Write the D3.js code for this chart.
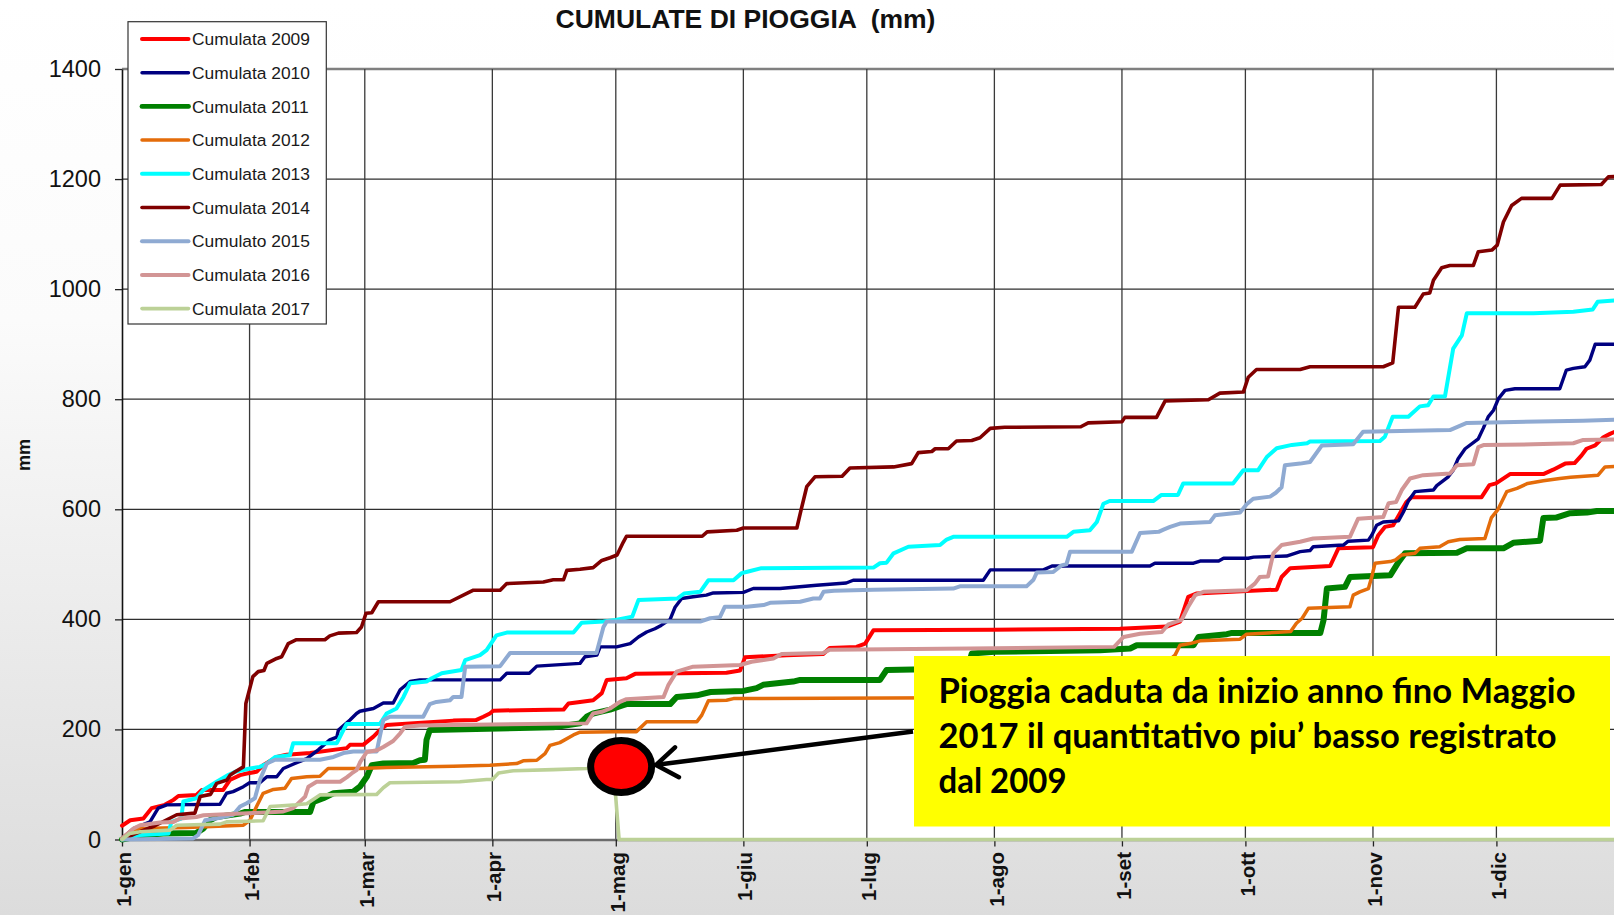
<!DOCTYPE html>
<html><head><meta charset="utf-8">
<script src="https://cdn.jsdelivr.net/npm/d3@7"></script>
<style>html,body{margin:0;padding:0;overflow:hidden;background:#fff}</style>
</head><body>
<svg id="chart" width="1614" height="915"></svg>
<script>
// ---------- DATA ----------
const monthDays = [0,31,59,90,120,151,181,212,243,273,304,334];
const monthLabels = ["1-gen","1-feb","1-mar","1-apr","1-mag","1-giu","1-lug","1-ago","1-set","1-ott","1-nov","1-dic"];
const yTicks = [0,200,400,600,800,1000,1200,1400];
const seriesNames = ["Cumulata 2009","Cumulata 2010","Cumulata 2011","Cumulata 2012","Cumulata 2013","Cumulata 2014","Cumulato 2015","Cumulata 2016","Cumulata 2017"];
const seriesColors = ["#ff0000","#000080","#008000","#e46c0a","#00ffff","#800000","#8faad2","#d29595","#bcd197"];
const seriesWidths = [4,3.4,6,3.5,4,3.6,4,4,3.6];

// [day of year, cumulative mm]
const cum2009 = [[0,25],[2,35],[5.2,38],[7.2,57],[10.4,63],[12.5,72],[13.7,79],[18.1,81],[19.4,90],[24.6,90],[26.2,108],[28.7,117],[30.3,120],[32.7,123],[34.3,135],[37.6,150],[40,154],[45.7,157],[54.6,166],[55.4,172],[58.6,172],[61.1,187],[62.7,199],[64.3,208],[70,211],[80.5,216],[86,217],[87.8,223],[89.4,229],[90.2,234],[96.7,235],[107.3,236],[108.5,247],[111.3,250],[114.5,253],[116.6,266],[117.8,290],[122.6,293],[124.7,301],[146.9,303],[150.2,307],[151.4,331],[161.5,335],[170.4,337],[172,348],[178.5,350],[180.6,356],[182.6,380],[211.7,381],[242.5,383],[253.9,387],[257.1,396],[259.1,441],[261.2,447],[280.6,454],[281.8,477],[283.9,493],[293.6,497],[295.6,529],[304,531],[305.3,553],[306.9,568],[308.9,571],[310.5,592],[312.1,613],[313.4,622],[330.4,622],[332.3,644],[333.9,647],[337.3,664],[345.4,664],[347.8,672],[350.7,683],[353,684],[354.7,698],[355.9,710],[358,716],[360,731],[361.6,737],[364,745]];
const cum2010 = [[0,2],[2.8,20],[6.8,32],[8.8,57],[10.9,63],[23.8,64],[25.4,84],[27,87],[29.5,96],[31,103],[33.5,103],[35.2,114],[37.6,114],[39.2,129],[42,138],[44.9,147],[47.7,163],[50.5,181],[52.2,186],[52.6,199],[55.4,217],[57,229],[57.8,233],[61.1,238],[63.5,248],[65.9,248],[67.6,272],[70,287],[72.4,290],[91.9,290],[93.5,302],[99,302],[100.8,315],[111.3,320],[112.5,332],[115.4,335],[116.2,350],[120.2,350],[123.5,356],[125.5,368],[127.5,377],[129.5,383],[131,389],[133.2,400],[134.4,422],[136,438],[138.8,441],[142,444],[143.7,448],[151,449],[153.4,456],[159.9,456],[168.8,462],[176,466],[177.7,471],[209.3,471],[211,490],[223.9,490],[226,497],[249.8,497],[251,502],[260.4,502],[262,506],[266.5,506],[267.7,511],[273.7,511],[275,513],[283,515],[286.3,523],[288.7,525],[289.5,532],[296.8,535],[298,542],[302.9,544],[303.7,553],[304.9,571],[306.5,577],[310.2,579],[311.4,595],[312.6,615],[314.2,632],[318.7,635],[319.5,643],[321.1,652],[322.3,659],[323.5,671],[324.7,692],[326.4,710],[329.6,728],[330.8,747],[332,768],[333.3,780],[334.5,801],[336.1,816],[338.5,819],[349.4,819],[351,853],[352.7,856],[355.5,859],[356.7,871],[358,900],[364,900]];
const cum2011 = [[0,0],[5.2,8],[10,11],[18.1,12],[19.8,20],[21.4,35],[23,41],[28.7,47],[30,50],[45.7,50],[46.5,68],[48.9,75],[51.4,84],[56.2,87],[57.8,96],[59.5,114],[60.7,135],[63.5,138],[70.8,139],[72.4,144],[73.6,145],[74,181],[74.8,199],[80.5,200],[104.8,204],[111.3,211],[112.9,223],[114.5,229],[116.2,232],[118.6,236],[121.8,244],[122.6,246],[133.2,246],[134.8,259],[139.7,262],[143,268],[151,270],[154.2,275],[155.8,281],[163.1,287],[164.8,290],[184.2,290],[185.8,308],[192.3,309],[205.5,310],[206.5,338],[212,341],[237.7,344],[245,347],[246.6,353],[260.4,353],[261.6,368],[268.5,373],[269.5,375],[291.2,375],[292,399],[292.8,456],[297.2,459],[298.4,477],[308.2,480],[310.2,504],[311.8,520],[324.4,521],[326.8,529],[335.7,529],[338.1,539],[344.6,543],[345.4,584],[348.5,585],[351.9,593],[356,594],[358.4,597],[364,597]];
const cum2012 = [[0,2],[1.9,14],[4.4,20],[15.7,22],[29.5,26],[31.1,35],[32.7,60],[34.3,84],[36.8,91],[39.6,93],[41.2,111],[44.9,114],[48.1,115],[50.1,129],[57.8,129],[64.3,131],[80.5,133],[89.4,135],[95.9,138],[97.5,143],[100.8,144],[102.8,156],[104,171],[106.4,176],[109.7,190],[111.3,195],[119.4,196],[125,196],[127.5,214],[139.7,214],[140.9,226],[142.5,252],[146.9,253],[148.6,256],[225,258],[240,280],[250,310],[254.5,326],[255.9,335],[257.1,353],[259.5,356],[262,361],[271.7,364],[273.3,373],[284,378],[285.4,393],[286.8,402],[288.3,420],[298.4,423],[299.2,444],[300.8,450],[302.9,456],[303.7,477],[304.5,502],[308.2,505],[309.5,508],[311,517],[314.2,520],[315.4,529],[320.2,532],[322.3,541],[325.1,545],[331.2,547],[332.8,585],[334.4,600],[336.5,632],[339,638],[341.6,647],[345.4,652],[349.4,656],[352,658],[358.7,662],[360.4,677],[364,678]];
const cum2013 = [[0,0],[4.4,8],[11.3,11],[12,32],[14.4,38],[14.9,69],[18.1,75],[19.8,90],[23,105],[25.8,117],[27.5,123],[31.1,129],[33.5,132],[35.2,138],[37.2,150],[40.8,153],[41.6,175],[52.2,175],[53.4,193],[54.6,210],[62.7,210],[64.3,229],[66.7,238],[68.4,259],[70,284],[74,287],[75.3,293],[77.7,302],[82.5,308],[83.4,326],[87,335],[88.6,344],[91,371],[93.5,376],[109.7,376],[111.7,394],[117,396],[120,399],[124,405],[125.5,435],[135,438],[136.6,447],[140.5,450],[142.5,471],[148.6,471],[150.6,484],[152.2,487],[155.4,493],[182.6,494],[184.2,502],[185.8,503],[187.5,520],[191.1,532],[198.8,535],[200.4,545],[202,550],[229.6,550],[231.2,559],[235.2,562],[236.9,577],[238.5,610],[240,615],[250.6,615],[252.6,626],[256.6,626],[257.9,647],[270,647],[272.5,671],[276.1,671],[278.2,695],[280.6,711],[284.3,717],[288,720],[288.7,723],[305.7,724],[306.9,732],[308.8,768],[312.6,768],[315.4,787],[317.4,789],[318.7,805],[321.5,805],[323.5,892],[325.6,916],[326.8,956],[343,956],[352.7,959],[357.4,963],[358.6,977],[364,980]];
const cum2014 = [[0,0],[3,10],[8,25],[13.3,45],[17.7,48],[19,78],[21.5,82],[23,102],[25.5,108],[26.3,117],[27.5,123],[29.5,132],[30.1,247],[31.8,296],[33.1,305],[34.5,307],[35.2,320],[37.6,329],[38.8,332],[40.4,356],[42.4,363],[49.3,363],[50.5,370],[52.6,375],[57,376],[58.2,386],[59.3,411],[60.7,412],[62.3,432],[79.7,432],[83.8,447],[85.4,453],[91.9,453],[93.5,465],[102.4,468],[104.8,472],[107.3,472],[108.1,489],[111.3,491],[114.5,494],[116.6,507],[118.6,512],[120.3,517],[121.8,540],[122.6,551],[141,551],[142.2,559],[149.4,562],[151,566],[164,566],[165,598],[166.4,641],[168.4,659],[175,660],[176.9,675],[187.5,677],[191.9,683],[193.5,703],[196.8,705],[197.6,710],[200.8,710],[202.8,724],[206.5,725],[208.5,730],[211,747],[214.5,749],[233,750],[234.8,757],[243,759],[243.7,767],[251.4,767],[253.5,797],[264,799],[266.8,811],[272.5,813],[273.7,840],[275.7,854],[286.3,854],[288.7,859],[306.5,859],[308.8,866],[310.2,967],[314.2,967],[316.2,991],[317.8,993],[318.7,1016],[320.7,1039],[322.7,1043],[328.4,1043],[329.6,1068],[332.9,1071],[334.2,1080],[335.7,1122],[337.7,1152],[340.1,1165],[347.5,1165],[349.5,1189],[359.5,1190],[361.2,1204],[364,1205]];
const cum2015 = [[0,0],[17.3,2],[18.5,8],[20.2,35],[22.9,38],[27,45],[28.7,60],[30.3,66],[32.3,75],[33.5,108],[35.2,138],[37.2,145],[48.1,145],[51.4,150],[53.8,157],[56.2,160],[61.9,160],[63.5,217],[65.1,223],[73.2,223],[74.8,246],[76.4,250],[79.7,253],[80.5,259],[82.5,259],[83.4,314],[91.9,315],[94.3,339],[115.3,339],[117,386],[117.8,396],[140.5,396],[142.9,402],[145.3,404],[146.5,423],[151.8,423],[155.9,426],[157.5,430],[164.8,432],[168,438],[169.6,438],[170.5,450],[173,452],[182.6,454],[202,456],[203.6,460],[219.8,460],[221.5,472],[222.3,485],[226.3,486],[228.3,498],[229.5,500],[230.4,523],[245.4,523],[247.4,557],[251.9,559],[253.1,563],[254.7,568],[257.1,574],[264.4,577],[265.6,589],[271.7,594],[273.3,609],[274.9,619],[279,623],[280.4,630],[281.8,640],[282.6,680],[286.3,683],[288.7,686],[291.6,716],[299.2,718],[301.6,741],[322.7,744],[326.8,757],[355,761],[364,763]];
const cum2016 = [[0,2],[2.8,20],[4.4,26],[9.2,31],[12.5,32],[14.1,38],[18.1,41],[19.8,44],[31.9,48],[35,49],[39.2,51],[41.6,57],[44.5,78],[45.3,96],[47.3,105],[53,105],[54.6,113],[55.8,120],[57,126],[57.9,141],[59.5,159],[62,162],[63.5,168],[65.9,179],[67.6,193],[68.8,205],[72.4,207],[80.5,208],[112.9,211],[114.5,229],[116.6,232],[118.6,238],[121,250],[122.6,255],[131.6,259],[132.8,281],[134.8,305],[138.8,314],[150.2,317],[153,323],[158.3,329],[160.3,337],[170.4,339],[172,345],[206.1,347],[241.1,350],[243.4,368],[247.4,374],[252.7,377],[254.3,391],[257.5,399],[259.1,423],[260.8,444],[262.8,450],[273.3,453],[275.3,465],[276.5,477],[278.5,478],[279.8,520],[281.8,535],[286.3,541],[289.5,547],[298.4,550],[300.4,583],[306.5,586],[307.8,611],[309.6,613],[311,635],[313,656],[316.2,662],[322.7,665],[324.4,680],[328.4,682],[329.6,713],[331,717],[343,718],[352.7,720],[355.1,726],[364,727]];
const cum2017 = [[0,0],[1.9,11],[4.4,14],[11.7,17],[13.3,26],[23.8,28],[25.4,32],[34.3,34],[36,60],[38,61],[42.4,63],[44.9,65],[48.1,81],[61.9,82],[63.5,94],[65.1,103],[82.1,105],[88.6,109],[90,109],[91.5,121],[95.1,125],[104.8,127],[112.9,129],[119.4,132],[120.8,0],[364,0]];
const allSeries = [cum2009,cum2010,cum2011,cum2012,cum2013,cum2014,cum2015,cum2016,cum2017];

const titleText = "CUMULATE DI PIOGGIA  (mm)";
const yLabel = "mm";
const noteLines = ["Pioggia caduta da inizio anno fino Maggio","2017 il quantitativo piu\u2019 basso registrato","dal 2009"];
const markerDay = 121.3; // 2017 marker, around 1 maggio

// ---------- CHART ----------
const W = 1614, H = 915;
const svg = d3.select("#chart");
const defs = svg.append("defs");
const grad = defs.append("linearGradient").attr("id","bg").attr("x1",0).attr("y1",0).attr("x2",0).attr("y2",1);
grad.append("stop").attr("offset","0%").attr("stop-color","#ffffff");
grad.append("stop").attr("offset","35%").attr("stop-color","#fbfbfb");
grad.append("stop").attr("offset","100%").attr("stop-color","#dcdcdc");
svg.append("rect").attr("width",W).attr("height",H).attr("fill","url(#bg)");

const x = d3.scaleLinear().domain([0,365]).range([122, 122+365*4.115]);
const y = d3.scaleLinear().domain([0,1400]).range([839.5, 69]);
const [xL, xR] = x.range();

svg.append("rect").attr("x",xL).attr("y",y(1400)).attr("width",xR-xL).attr("height",y(0)-y(1400)).attr("fill","#fff");

// grid
svg.append("g").selectAll("line").data(yTicks.filter(d=>d>0)).join("line")
  .attr("x1",xL).attr("x2",xR).attr("y1",d=>y(d)).attr("y2",d=>y(d))
  .attr("stroke",d=>d===1400?"#7f7f7f":"#2e2e2e").attr("stroke-width",d=>d===1400?2.6:1.3);
svg.append("g").selectAll("line").data(monthDays.filter(d=>d>0)).join("line")
  .attr("x1",d=>x(d)).attr("x2",d=>x(d)).attr("y1",y(1400)).attr("y2",y(0))
  .attr("stroke","#3a3a3a").attr("stroke-width",1.3);

// y axis
const yAxis = svg.append("g").attr("transform",`translate(${xL},0)`)
  .call(d3.axisLeft(y).tickValues(yTicks).tickFormat(d3.format("d")).tickSize(7).tickSizeOuter(0).tickPadding(14));
yAxis.select(".domain").attr("stroke","#111").attr("stroke-width",1.6);
yAxis.selectAll(".tick line").attr("stroke","#222").attr("stroke-width",1.3);
yAxis.selectAll("text").attr("font-family","'Liberation Sans', Arial, sans-serif").attr("font-size","23.5px").attr("fill","#111");

// x axis
const xAxis = svg.append("g").attr("transform",`translate(0,${y(0)})`)
  .call(d3.axisBottom(x).tickValues(monthDays).tickFormat((d,i)=>monthLabels[i]).tickSize(7).tickSizeOuter(0));
xAxis.select(".domain").attr("stroke","#6b6b6b").attr("stroke-width",2.6);
xAxis.selectAll(".tick line").attr("stroke","#222").attr("stroke-width",1.3);
xAxis.selectAll("text")
  .attr("transform","rotate(-90)").attr("x",-12.5).attr("y",0).attr("dy","0.42em")
  .style("text-anchor","end")
  .attr("font-family","'Liberation Sans', Arial, sans-serif").attr("font-weight","bold")
  .attr("font-size","20.5px").attr("fill","#111");

// series
const line = d3.line().x(d=>x(d[0])).y(d=>y(d[1]));
svg.append("g").selectAll("path").data(allSeries).join("path")
  .attr("d",line).attr("fill","none")
  .attr("stroke",(d,i)=>seriesColors[i]).attr("stroke-width",(d,i)=>seriesWidths[i])
  .attr("stroke-linejoin","round").attr("stroke-linecap","round");

// title
svg.append("text").attr("x",745.5).attr("y",27.5).attr("text-anchor","middle")
  .attr("font-family","'Liberation Sans', Arial, sans-serif").attr("font-weight","bold")
  .attr("font-size","26.5px").attr("fill","#111").style("white-space","pre").text(titleText);

// y label
svg.append("text").attr("transform","translate(24,455) rotate(-90)").attr("text-anchor","middle").attr("dy","0.35em")
  .attr("font-family","'Liberation Sans', Arial, sans-serif").attr("font-weight","bold")
  .attr("font-size","18px").attr("fill","#111").text(yLabel);

// legend
const lg = svg.append("g").attr("transform","translate(128,21.7)");
lg.append("rect").attr("width",198.3).attr("height",302.3).attr("fill","#fff").attr("stroke","#333").attr("stroke-width",1.2);
const items = lg.selectAll("g.it").data(seriesNames).join("g").attr("class","it")
  .attr("transform",(d,i)=>`translate(0,${17.3+i*33.7})`);
items.append("line").attr("x1",14).attr("x2",60.5).attr("y1",0).attr("y2",0)
  .attr("stroke",(d,i)=>seriesColors[i]).attr("stroke-width",(d,i)=>Math.min(seriesWidths[i],4.8)).attr("stroke-linecap","round");
items.append("text").attr("x",64).attr("y",0).attr("dy","0.36em")
  .attr("font-family","'Liberation Sans', Arial, sans-serif").attr("font-size","17.4px").attr("fill","#1a1a1a").text(d=>d);

// annotation
const boxX = 914, boxY = 656, boxW = 696, boxH = 170.5;
svg.append("rect").attr("x",boxX).attr("y",boxY).attr("width",boxW).attr("height",boxH).attr("fill","#ffff00");
const noteLens = [637, 618, 128];
svg.append("g").selectAll("text").data(noteLines).join("text")
  .attr("x",938.5).attr("y",(d,i)=>703+i*45)
  .attr("textLength",(d,i)=>noteLens[i]).attr("lengthAdjust","spacingAndGlyphs")
  .attr("font-family","Lato, 'Open Sans', sans-serif").attr("font-weight","bold")
  .attr("font-size","34px").attr("fill","#000").text(d=>d);

// marker ellipse
const cx = x(markerDay), cy = 766.5;
svg.append("ellipse").attr("cx",cx).attr("cy",cy).attr("rx",30.5).attr("ry",26)
  .attr("fill","#ff0000").attr("stroke","#000").attr("stroke-width",7);

// arrow
const ax1 = boxX-1, ay1 = 731.5, ax2 = 656, ay2 = 765;
svg.append("line").attr("x1",ax1).attr("y1",ay1).attr("x2",ax2+3).attr("y2",ay2-0.4)
  .attr("stroke","#000").attr("stroke-width",4.5);
const ang = Math.atan2(ay1-ay2, ax1-ax2), hl = 26, ha = 0.62;
const p1 = [ax2+hl*Math.cos(ang+ha), ay2+hl*Math.sin(ang+ha)];
const p2 = [ax2+hl*Math.cos(ang-ha), ay2+hl*Math.sin(ang-ha)];
svg.append("path").attr("d",`M${p1[0]},${p1[1]}L${ax2},${ay2}L${p2[0]},${p2[1]}`)
  .attr("fill","none").attr("stroke","#000").attr("stroke-width",4.5).attr("stroke-linecap","round").attr("stroke-linejoin","miter");
</script>
</body></html>
